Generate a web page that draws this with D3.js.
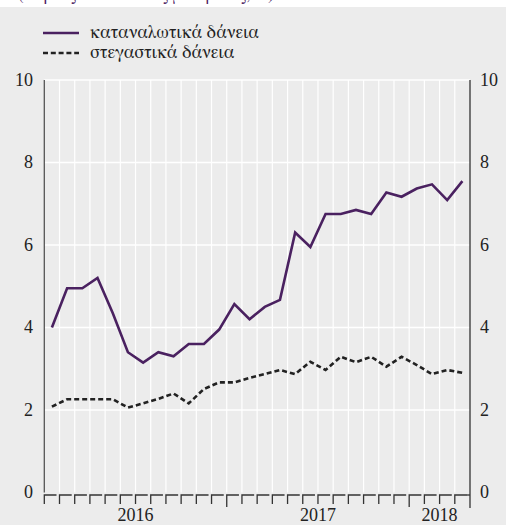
<!DOCTYPE html>
<html>
<head>
<meta charset="utf-8">
<script src="https://cdn.jsdelivr.net/npm/d3@7"></script>
<style>
  html, body { margin: 0; padding: 0; background: #ffffff; }
  svg { display: block; }
  svg text { font-family: "Liberation Serif", "FreeSerif", serif; }
  svg text.greek { font-family: "FreeSerif", "DejaVu Serif", serif; }
</style>
</head>
<body>
<script>
// ---- data ----
const months = [
  "2016-01","2016-02","2016-03","2016-04","2016-05","2016-06","2016-07","2016-08","2016-09","2016-10","2016-11","2016-12",
  "2017-01","2017-02","2017-03","2017-04","2017-05","2017-06","2017-07","2017-08","2017-09","2017-10","2017-11","2017-12",
  "2018-01","2018-02","2018-03","2018-04"
];
const consumerLoans = [4.0,4.95,4.95,5.2,4.35,3.4,3.15,3.4,3.3,3.6,3.6,3.95,4.57,4.2,4.5,4.67,6.3,5.95,6.75,6.75,6.85,6.75,7.27,7.17,7.37,7.47,7.09,7.55];
const housingLoans  = [2.08,2.26,2.26,2.26,2.26,2.06,2.16,2.27,2.4,2.16,2.51,2.67,2.67,2.78,2.87,2.97,2.87,3.17,2.97,3.29,3.16,3.29,3.05,3.29,3.09,2.87,2.97,2.9];
const yTicks = [0,2,4,6,8,10];
const years = ["2016","2017","2018"];
const seriesNames = ["καταναλωτικά δάνεια","στεγαστικά δάνεια"];
const subtitle = "(ετήσιες ποσοστιαίες μεταβολές, %)";

(function () {
// ---- layout ----
const W = 506, H = 525;
const pLeft = 44.3, pRight = 470, pTop = 80, pBottom = 492.5;
const purple = "#4a2160", dark = "#222222", bg = "#ececec";

const svg = d3.select("body").append("svg").attr("width", W).attr("height", H);

// clipped subtitle at very top
svg.append("text").attr("class","greek").attr("x",18).attr("y",0).attr("font-size",17)
  .attr("fill",purple).text(subtitle);
svg.append("rect").attr("x",0).attr("y",7).attr("width",W).attr("height",H-7).attr("fill",bg);

const x = d3.scaleBand().domain(months).range([pLeft, pRight]).padding(0);
const y = d3.scaleLinear().domain([0,10]).range([pBottom, pTop]);

// vertical gridlines
svg.append("g").selectAll("line").data(months.slice(1)).join("line")
  .attr("x1", d => x(d)).attr("x2", d => x(d))
  .attr("y1", pTop).attr("y2", pBottom)
  .attr("stroke","#ffffff").attr("stroke-width",1.2);

// horizontal gridlines
svg.append("g").selectAll("line").data(yTicks.filter(v => v > 0)).join("line")
  .attr("x1", pLeft).attr("x2", pRight)
  .attr("y1", d => y(d)).attr("y2", d => y(d))
  .attr("stroke","#ffffff").attr("stroke-width",1.6);

// axes lines
svg.append("line").attr("x1",pLeft).attr("x2",pLeft).attr("y1",pTop).attr("y2",pBottom)
  .attr("stroke","#555").attr("stroke-width",1.3);
svg.append("line").attr("x1",pRight).attr("x2",pRight).attr("y1",pTop).attr("y2",508)
  .attr("stroke","#333").attr("stroke-width",1.3);

// y labels
const yl = svg.append("g").attr("font-size",18).attr("fill","#222");
yl.selectAll("text.l").data(yTicks).join("text").attr("class","l")
  .attr("x",33).attr("y",d => y(d)).attr("dy","0.33em").attr("text-anchor","end").text(d => d);
yl.selectAll("text.r").data(yTicks).join("text").attr("class","r")
  .attr("x",480).attr("y",d => y(d)).attr("dy","0.33em").attr("text-anchor","start").text(d => d);

// x axis: bracket ticks
const axY = 495;
const tickG = svg.append("g").attr("fill","none").attr("stroke","#333").attr("stroke-width",1.3);
months.forEach((m, i) => {
  const x0 = x(m), x1 = x0 + x.bandwidth();
  const long = m.endsWith("-01") && i > 0;
  tickG.append("path").attr("d", `M${x0},${axY + (long ? 12 : 9)}V${axY}H${x1 - 3}`);
});
tickG.append("path").attr("d", `M${pRight - 3},${axY}H${pRight}`);

// year labels
const yearMid = years.map(yr => {
  const ms = months.filter(m => m.startsWith(yr));
  return { yr, cx: (x(ms[0]) + x(ms[ms.length-1]) + x.bandwidth()) / 2 };
});
svg.append("g").selectAll("text").data(yearMid).join("text")
  .attr("x", d => d.cx).attr("y", 521).attr("text-anchor","middle")
  .attr("font-size",18).attr("fill","#222").text(d => d.yr);

// lines
const line = d3.line().x((d,i) => x(months[i]) + x.bandwidth()/2).y(d => y(d));
svg.append("path").datum(housingLoans).attr("d", line).attr("fill","none")
  .attr("stroke",dark).attr("stroke-width",2.6).attr("stroke-dasharray","5,3");
svg.append("path").datum(consumerLoans).attr("d", line).attr("fill","none")
  .attr("stroke",purple).attr("stroke-width",2.6).attr("stroke-linejoin","miter");

// legend
const lg = svg.append("g");
lg.append("line").attr("x1",43).attr("x2",79).attr("y1",33).attr("y2",33)
  .attr("stroke",purple).attr("stroke-width",2.6);
lg.append("line").attr("x1",43).attr("x2",79).attr("y1",53).attr("y2",53)
  .attr("stroke",dark).attr("stroke-width",2.6).attr("stroke-dasharray","5,2.8");
const lt = lg.selectAll("text").data(seriesNames).join("text").attr("class","greek")
  .attr("x",90).attr("y",(d,i) => 38 + i*20)
  .attr("font-size",17).attr("fill","#222").text(d => d);
function fit() {
  lt.attr("font-size", 16);
  const w0 = lt.node().getBBox().width;
  if (w0 > 0) lt.attr("font-size", Math.max(13, Math.min(20, 16 * 169 / w0)));
}
fit();
if (document.fonts && document.fonts.ready) document.fonts.ready.then(fit);
})();
</script>
</body>
</html>
